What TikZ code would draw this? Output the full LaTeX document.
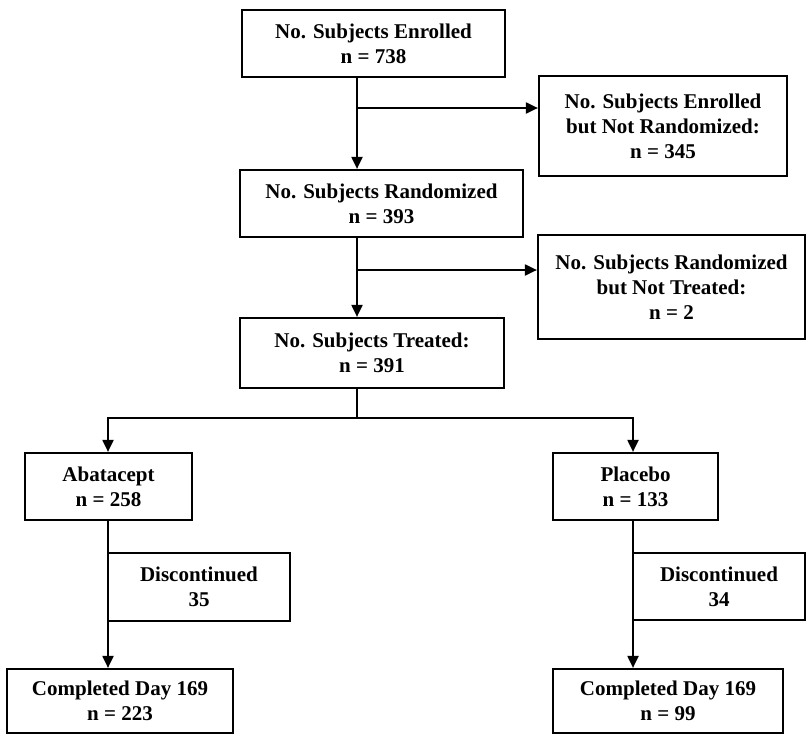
\documentclass[tikz,border=0pt]{standalone}
\usepackage{fontspec}
\setmainfont{Liberation Serif}
\usetikzlibrary{arrows.meta}
\begin{document}
\begin{tikzpicture}[x=1pt,y=-1pt,
  box/.style={draw, line width=2.2pt, align=center, inner sep=0pt,
    font=\fontsize{21}{25}\selectfont\bfseries},
  link/.style={line width=2pt},
  arr/.style={link, -{Triangle[length=12pt,width=11pt]}}]
\useasboundingbox (0,0) rectangle (808,736);

% boxes of the flow
\node[box, minimum width=263pt, minimum height=67pt] (enr) at (373.5,43.5)
  {No. Subjects Enrolled\\n = 738};
\node[box, minimum width=248pt, minimum height=100pt] (nrand) at (663,126)
  {No. Subjects Enrolled\\but Not Randomized:\\n = 345};
\node[box, minimum width=283pt, minimum height=67pt] (rand) at (381.5,203.5)
  {No. Subjects Randomized\\n = 393};
\node[box, minimum width=267pt, minimum height=104pt] (ntreat) at (671.5,287)
  {No. Subjects Randomized\\but Not Treated:\\n = 2};
\node[box, minimum width=264pt, minimum height=70pt] (treat) at (372,353)
  {No. Subjects Treated:\\n = 391};
\node[box, minimum width=167pt, minimum height=67pt] (abat) at (108.5,486.5)
  {Abatacept\\n = 258};
\node[box, minimum width=165pt, minimum height=67pt] (plac) at (635.5,486.5)
  {Placebo\\n = 133};
\node[box, minimum width=182pt, minimum height=68pt] (disc35) at (199,587)
  {Discontinued\\35};
\node[box, minimum width=172pt, minimum height=67pt] (disc34) at (719,586.5)
  {Discontinued\\34};
\node[box, minimum width=226pt, minimum height=64pt] (compL) at (120,701)
  {Completed Day 169\\n = 223};
\node[box, minimum width=230pt, minimum height=64pt] (compR) at (668,701)
  {Completed Day 169\\n = 99};

% junction points on the main spine
\coordinate (sp1) at (357,108);
\coordinate (sp2) at (357,270);
\coordinate (split) at (357,418);
\coordinate (armL) at (108,0);
\coordinate (armR) at (633,0);

% connectors
\draw[arr] (enr.south -| sp1) -- (rand.north -| sp1);
\draw[arr] (sp1) -- (sp1 -| nrand.west);
\draw[arr] (rand.south -| sp2) -- (treat.north -| sp2);
\draw[arr] (sp2) -- (sp2 -| ntreat.west);
\draw[link] (treat.south -| split) -- (split);
\draw[arr] (split) -| (abat.north -| armL);
\draw[arr] (split) -| (plac.north -| armR);
\draw[arr] (abat.south -| armL) -- (compL.north -| armL);
\draw[arr] (plac.south -| armR) -- (compR.north -| armR);
\end{tikzpicture}
\end{document}
